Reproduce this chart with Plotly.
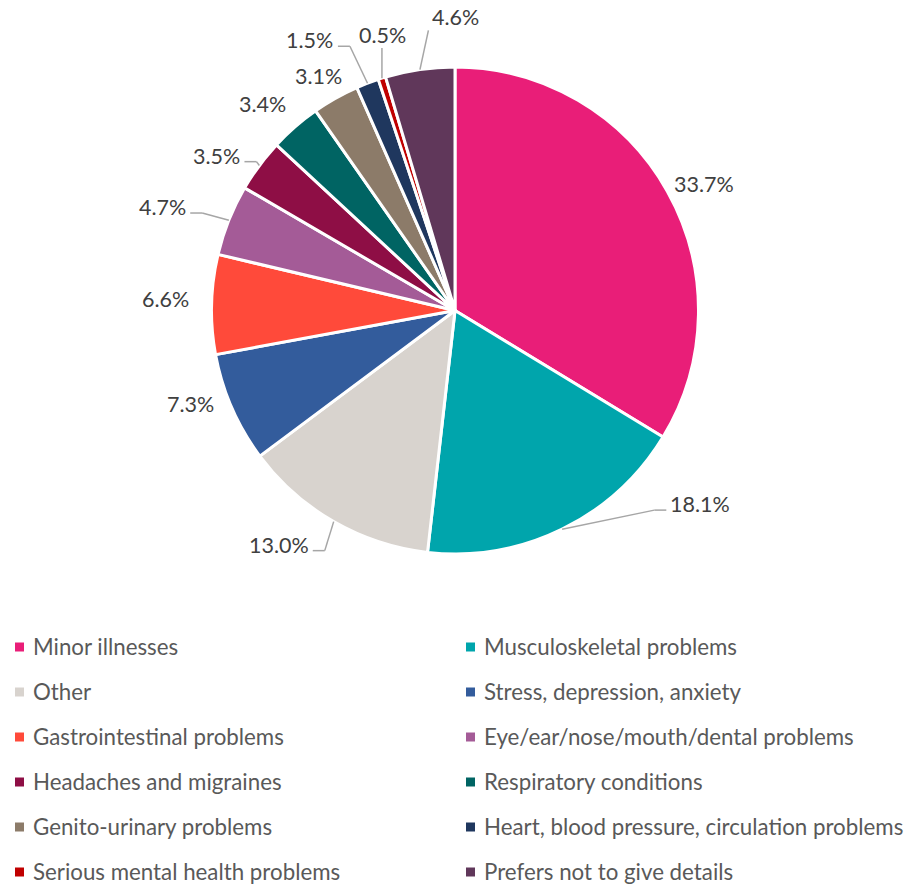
import math
import plotly.graph_objects as go

# Reasons given for sickness absence (share of cases, %)
categories = [
    "Minor illnesses",
    "Musculoskeletal problems",
    "Other",
    "Stress, depression, anxiety",
    "Gastrointestinal problems",
    "Eye/ear/nose/mouth/dental problems",
    "Headaches and migraines",
    "Respiratory conditions",
    "Genito-urinary problems",
    "Heart, blood pressure, circulation problems",
    "Serious mental health problems",
    "Prefers not to give details",
]
shares = [33.7, 18.1, 13.0, 7.3, 6.6, 4.7, 3.5, 3.4, 3.1, 1.5, 0.5, 4.6]
colors = [
    "#E91E78", "#00A5AC", "#D8D3CE", "#335C9C", "#FF4A3A", "#A45B97",
    "#8E0E45", "#006463", "#8C7B69", "#1F375E", "#C00000", "#60375A",
]

# ---- layout constants (pixels) ----
W, H = 911, 885
CX, CY, R = 455, 310.5, 243.5
LABEL_RADIUS = R + 30
LABEL_FONT = dict(family="Lato, Calibri, sans-serif", size=21.5, color="#404040")
LEGEND_FONT = dict(family="Lato, Calibri, sans-serif", size=22.3, color="#595959")
LEADER_COLOR = "#A6A6A6"

# per-slice shift of the data label away from its default outside spot
label_nudge = [(11, 8), (125, -52), (-40, -3), (-14, -16), (-16, -5), (-39, -2),
               (-19, 8), (-13, 0), (-2, 4), (-47, -15), (10, -15), (40, -23)]
# how each data label is tied back to its slice
leader_kind = [None, "right", "left", None, None, "left", "left", None, None,
               "left", "below", "below"]


def px(x, y):
    """Pixel position -> paper coordinates."""
    return x / W, 1 - y / H


fig = go.Figure()
fig.add_trace(go.Pie(
    labels=categories,
    values=shares,
    sort=False,
    direction="clockwise",
    rotation=0,
    marker=dict(colors=colors, line=dict(color="white", width=3)),
    textinfo="none",
    hoverinfo="label+percent",
    showlegend=False,
    domain=dict(x=[(CX - R) / W, (CX + R) / W],
                y=[1 - (CY + R) / H, 1 - (CY - R) / H]),
))

shapes = []
annotations = []

# data labels with leader lines
total = sum(shares)
cum = 0.0
for i, v in enumerate(shares):
    mid = (cum + v / 2) / total * 2 * math.pi
    cum += v
    s, c = math.sin(mid), math.cos(mid)
    text = f"{v:.1f}%"
    lx = CX + LABEL_RADIUS * s + label_nudge[i][0]
    ly = CY - LABEL_RADIUS * c + label_nudge[i][1]
    x, y = px(lx, ly)
    annotations.append(dict(x=x, y=y, xref="paper", yref="paper", text=text,
                            showarrow=False, xanchor="center", yanchor="middle",
                            font=LABEL_FONT))
    kind = leader_kind[i]
    if kind is None:
        continue
    ex, ey = CX + R * s, CY - R * c
    half = 5.8 * len(text)
    if kind in ("left", "right"):
        sign = 1 if kind == "left" else -1
        end_x = lx + sign * (half + 5)
        knee_x = end_x + sign * 12
        hy = ly + 6
        pts = [(ex, ey), (knee_x, hy), (end_x, hy)]
    else:
        end_x = min(max(ex, lx - half - 4), lx + half + 4)
        pts = [(ex, ey), (end_x, ly + 13.5)]
    for (x0, y0), (x1, y1) in zip(pts[:-1], pts[1:]):
        a0, b0 = px(x0, y0)
        a1, b1 = px(x1, y1)
        shapes.append(dict(type="line", xref="paper", yref="paper",
                           x0=a0, y0=b0, x1=a1, y1=b1,
                           line=dict(color=LEADER_COLOR, width=1.5)))

# two-column legend below the pie
for i, (name, col) in enumerate(zip(categories, colors)):
    row, column = divmod(i, 2)
    sq_x = 15 + column * 451
    cy = 647 + row * 45
    a0, b0 = px(sq_x, cy - 4.5)
    a1, b1 = px(sq_x + 9, cy + 4.5)
    shapes.append(dict(type="rect", xref="paper", yref="paper",
                       x0=a0, y0=b0, x1=a1, y1=b1,
                       fillcolor=col, line=dict(width=0)))
    tx, ty = px(sq_x + 16, cy - 1)
    annotations.append(dict(x=tx, y=ty, xref="paper", yref="paper", text=name,
                            showarrow=False, xanchor="left", yanchor="middle",
                            font=LEGEND_FONT))

fig.update_layout(
    width=W, height=H,
    margin=dict(l=0, r=0, t=0, b=0),
    paper_bgcolor="white",
    plot_bgcolor="white",
    shapes=shapes,
    annotations=annotations,
    showlegend=False,
)

fig.write_html("out.html")
